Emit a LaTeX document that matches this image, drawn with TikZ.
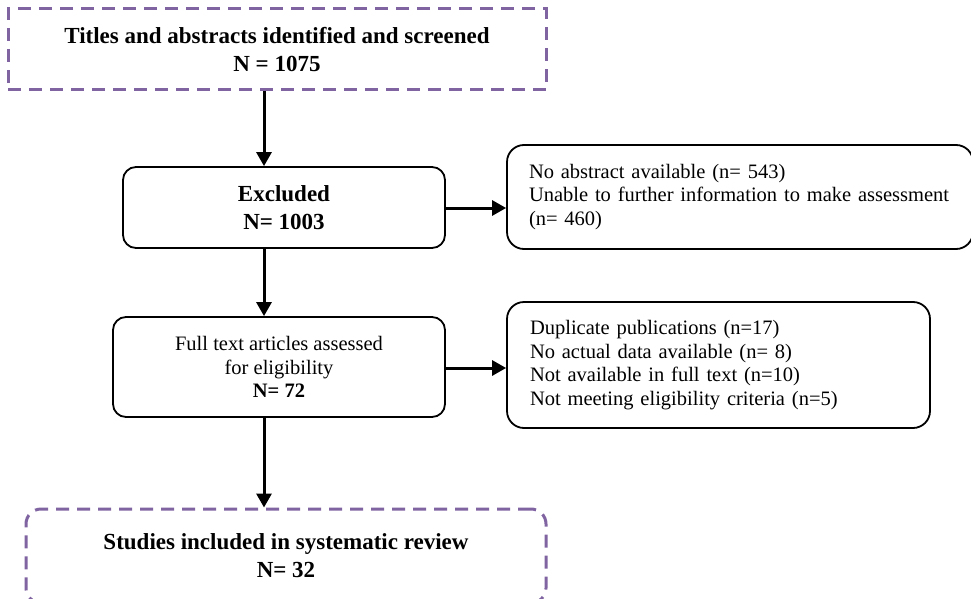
\documentclass[tikz,border=0pt]{standalone}
\usepackage{fontspec}
\setmainfont{Liberation Serif}
\usetikzlibrary{arrows.meta}
\definecolor{dashpurple}{HTML}{8064A2}
\tikzset{
  dbox/.style={draw=dashpurple, line width=3pt, dash pattern=on 13pt off 8pt, align=center, inner sep=0pt},
  sbox/.style={draw=black, line width=1.8pt, rounded corners=13pt, align=center, inner sep=0pt},
  lbox/.style={draw=black, line width=1.8pt, rounded corners=17pt, align=left, inner ysep=0pt},
  bigb/.style={font=\fontsize{23}{28}\selectfont\bfseries},
  reg/.style={font=\fontsize{20.5}{23.5}\selectfont},
  arr/.style={line width=3pt, -{Triangle[width=15pt,length=14pt]}}
}
\begin{document}
\begin{tikzpicture}[x=1pt,y=-1pt]
\useasboundingbox (0,0) rectangle (971,599);
\coordinate (spine) at (264,0);
\node[dbox, bigb, minimum width=538pt, minimum height=81pt] (top) at (277,49.5)
  {Titles and abstracts identified and screened\\N = 1075};
\node[sbox, bigb, minimum width=322pt, minimum height=81pt] (ex) at (284,207.5)
  {Excluded\\N= 1003};
\node[lbox, reg, minimum width=466pt, minimum height=104pt, text width=422pt, inner xsep=22pt] (r1) at (740,197)
  {No abstract available (n= 543)\\Unable to further information to make assessment\\(n= 460)};
\node[sbox, reg, minimum width=332pt, minimum height=100pt] (ft) at (279,367)
  {Full text articles assessed\\for eligibility\\\textbf{N= 72}};
\node[lbox, reg, minimum width=423pt, minimum height=126pt, text width=377pt, inner xsep=23pt] (r2) at (718.5,365)
  {Duplicate publications (n=17)\\No actual data available (n= 8)\\Not available in full text (n=10)\\Not meeting eligibility criteria (n=5)};
\node[dbox, bigb, rounded corners=15pt, minimum width=520pt, minimum height=94pt] (inc) at (286,556)
  {Studies included in systematic review\\N= 32};
\draw[arr] (top.south -| spine) -- (ex.north -| spine);
\draw[arr] (ex.south -| spine) -- (ft.north -| spine);
\draw[arr] (ft.south -| spine) -- (inc.north -| spine);
\draw[arr] (ex.east) ++(0,0.5) -- ([yshift=-0.5pt]ex.east -| r1.west);
\draw[arr] (ft.east) ++(0,1) -- ([yshift=-1pt]ft.east -| r2.west);
\end{tikzpicture}
\end{document}
